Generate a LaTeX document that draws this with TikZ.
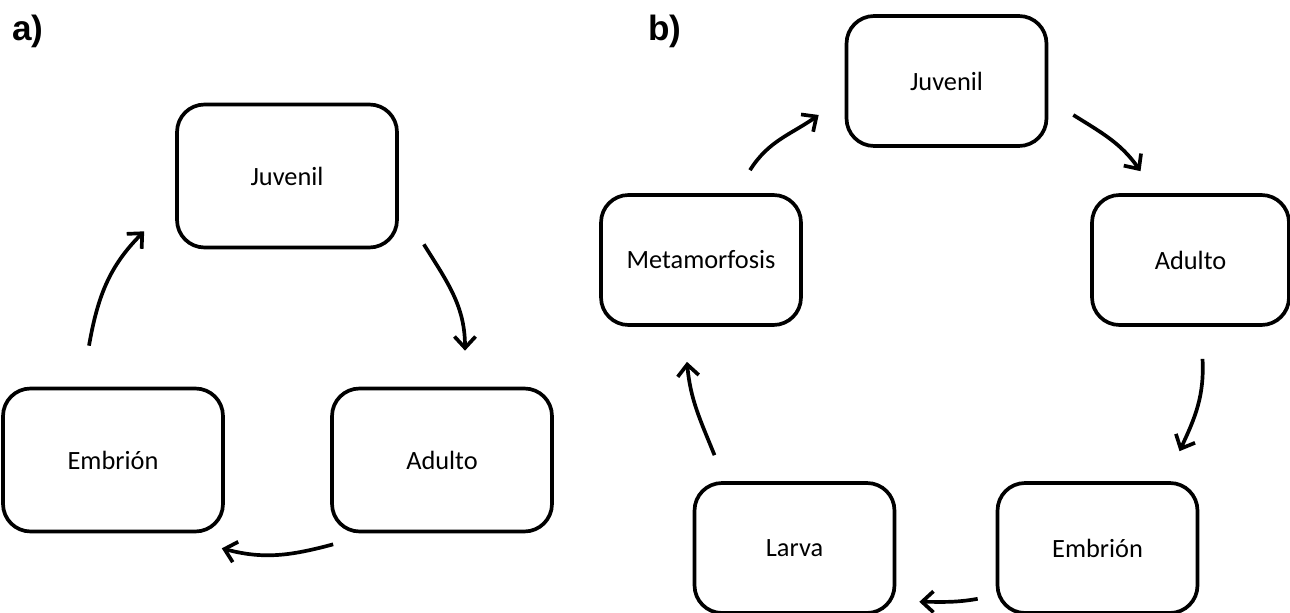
\documentclass[tikz,border=0pt]{standalone}
\usepackage{fontspec}
\setmainfont{Carlito}
\newfontfamily\panelfont{Liberation Sans}
\usetikzlibrary{arrows.meta}

\begin{document}
\begin{tikzpicture}[x=0.02cm,y=0.02cm,
        stage/.style={draw, line width=2.1pt, rounded corners=0.55cm, inner sep=0pt, font=\fontsize{15}{18}\selectfont},
        stagea/.style={stage, minimum width=4.4cm, minimum height=2.86cm},
        stageb/.style={stage, minimum width=4cm, minimum height=2.6cm},
        cyc/.style={line width=2.1pt, -{Straight Barb[length=6.5pt,width=12pt]}},
        panel/.style={anchor=west, inner sep=0pt, font=\panelfont\bfseries\fontsize{20}{24}\selectfont}]
        \useasboundingbox (0,0) rectangle (1290,612);
        \node [panel] (pa) at (12,581) {a)};
        \node [panel] (pb) at (648,581) {b)};
        \node [stagea] (juvA) at (287,436) {Juvenil};
        \node [stagea] (embA) at (113,152) {Embrión};
        \node [stagea] (aduA) at (442,152) {Adulto};
        \draw[cyc] ([shift={(-24,41)}]embA.north) to[out=80,in=225] ([shift={(-31,18)}]juvA.south west);
        \draw[cyc] ([shift={(25,5)}]juvA.south east) to[out=-58,in=90] ([shift={(23,36)}]aduA.north);
        \draw[cyc] ([shift={(3,-11)}]aduA.south west) to[out=195,in=-15] ([shift={(-3,-15)}]embA.south east);
        \node [stageb] (juvB) at (946.5,531) {Juvenil};
        \node [stageb] (metB) at (701,352) {Metamorfosis};
        \node [stageb, minimum width=3.94cm] (aduB) at (1190.5,352) {Adulto};
        \node [stageb] (embB) at (1097.5,64) {Embrión};
        \node [stageb] (larB) at (794.5,64) {Larva};
        \draw[cyc] ([shift={(49,23)}]metB.north) to[out=58,in=215] ([shift={(-26,-34)}]juvB.west);
        \draw[cyc] ([shift={(25,-34)}]juvB.east) to[out=-32,in=125] ([shift={(-50,22)}]aduB.north);
        \draw[cyc] ([shift={(12,-32)}]aduB.south) to[out=-87,in=65] ([shift={(82,30)}]embB.north);
        \draw[cyc] ([shift={(-18,16)}]embB.south west) to[out=190,in=0] ([shift={(23,13)}]larB.south east);
        \draw[cyc] ([shift={(-80,26)}]larB.north) to[out=112,in=-85] ([shift={(-14,-35)}]metB.south);
    \end{tikzpicture}
\end{document}
